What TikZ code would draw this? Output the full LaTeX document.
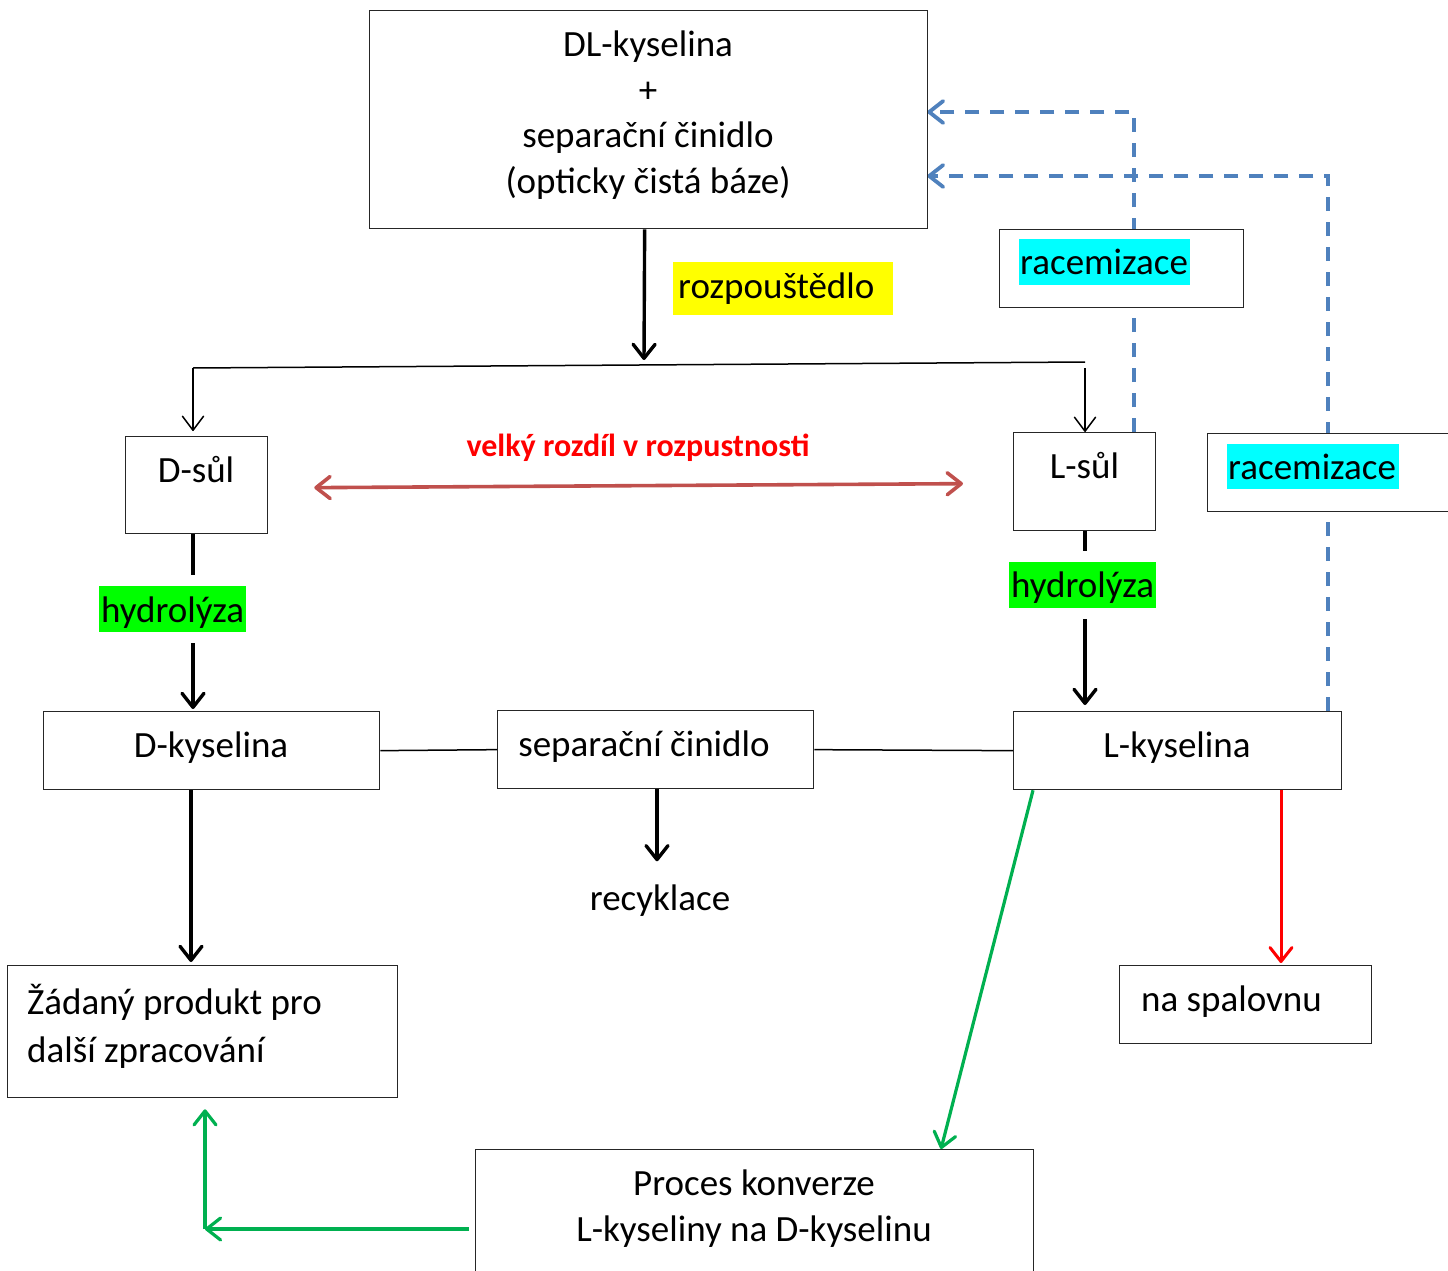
\documentclass[tikz,border=0pt]{standalone}
\usepackage{fontspec}
\setmainfont{Carlito}
\usetikzlibrary{arrows.meta,backgrounds,calc}
\definecolor{dashblue}{HTML}{4F81BD}
\definecolor{grn}{HTML}{00B050}
\definecolor{dred}{HTML}{C0504D}
\definecolor{boxline}{HTML}{262626}
\definecolor{hlyellow}{HTML}{FFFF00}
\definecolor{hlcyan}{HTML}{00FFFF}
\definecolor{hlgreen}{HTML}{00FF00}
\definecolor{pured}{HTML}{FF0000}
\begin{document}
\begin{tikzpicture}[x=1pt,y=-1pt,
  box/.style={draw=boxline, line width=1.3pt, fill=white, inner sep=0pt, anchor=north west},
  hl/.style={inner sep=0pt, anchor=north west},
  txt/.style={inner sep=0pt, font=\fontsize{37}{44}\selectfont, anchor=base},
  txtl/.style={txt, anchor=base west},
  tip/.tip={Straight Barb[round,length=14pt,width=22pt]},
  thk/.style={line width=3.4pt, -tip},
  thn/.style={line width=1.5pt},
  bdash/.style={draw=dashblue, line width=3.8pt, dash pattern=on 14pt off 11pt},
  gline/.style={draw=grn, line width=3.2pt},
]
\useasboundingbox (0,0) rectangle (1448,1271);
\clip (0,0) rectangle (1448,1271);

% boxes
\node[box, minimum width=558pt, minimum height=218pt] (top) at (369,10) {};
\node[box, minimum width=244pt, minimum height=78pt] (rac1) at (999,229) {};
\node[box, minimum width=260pt, minimum height=78pt] (rac2) at (1207,433) {};
\node[box, minimum width=142pt, minimum height=97pt] (Dsalt) at (125,436) {};
\node[box, minimum width=142pt, minimum height=98pt] (Lsalt) at (1013,432) {};
\node[box, minimum width=336pt, minimum height=78pt] (Dacid) at (43,711) {};
\node[box, minimum width=316pt, minimum height=78pt] (sep) at (497,710) {};
\node[box, minimum width=328pt, minimum height=78pt] (Lacid) at (1013,711) {};
\node[box, minimum width=390pt, minimum height=132pt] (zad) at (7,965) {};
\node[box, minimum width=252pt, minimum height=78pt] (spal) at (1119,965) {};
\node[box, minimum width=558pt, minimum height=160pt] (proc) at (475,1149) {};

% highlights
\node[hl, fill=hlyellow, minimum width=220pt, minimum height=53pt] (hlroz) at (673,262) {};
\node[hl, fill=hlcyan, minimum width=171pt, minimum height=46pt] (hlrac1) at (1019,239) {};
\node[hl, fill=hlcyan, minimum width=172pt, minimum height=45pt] (hlrac2) at (1227,444) {};
\node[hl, fill=hlgreen, minimum width=147pt, minimum height=46pt] (hydL) at (99,586) {};
\node[hl, fill=hlgreen, minimum width=147pt, minimum height=46pt] (hydR) at (1009,562) {};

% texts
\node[txt] (t1) at (648,57) {DL-kyselina};
\node[txt] (t2) at (648,102.5) {+};
\node[txt] (t3) at (648,148) {separační činidlo};
\node[txt] (t4) at (648,193.5) {(opticky čistá báze)};
\node[txtl] (troz) at (678,298) {rozpouštědlo};
\node[txtl] (trac1) at (1020,274) {racemizace};
\node[txtl] (trac2) at (1228,479) {racemizace};
\node[txt] (tDs) at (196,482) {D-sůl};
\node[txt] (tLs) at (1084.5,478) {L-sůl};
\node[txt] (thL) at (172.5,622) {hydrolýza};
\node[txt] (thR) at (1082.5,597) {hydrolýza};
\node[txt] (tDa) at (211,757) {D-kyselina};
\node[txt] (tsep) at (644,756) {separační činidlo};
\node[txt] (tLa) at (1177,757) {L-kyselina};
\node[txt] (recy) at (660,910) {recyklace};
\node[txtl] (tz1) at (27,1014) {Žádaný produkt pro};
\node[txtl] (tz2) at (27,1062) {další zpracování};
\node[txtl] (tsp) at (1141,1011) {na spalovnu};
\node[txt] (tp1) at (754,1195) {Proces konverze};
\node[txt] (tp2) at (754,1241) {L-kyseliny na D-kyselinu};
\node[inner sep=0pt, anchor=base, text=pured, font=\bfseries\fontsize{32}{38}\selectfont] (diff) at (638,456) {velký rozdíl v rozpustnosti};

% helper coordinates
\coordinate (splitL) at (193,368);
\coordinate (splitR) at (1085,362);
\coordinate (splitM) at (644,360);
\coordinate (xD) at (193,0);
\coordinate (xL) at (1085,0);
\coordinate (gcorner) at (205,1229);

\begin{scope}[on background layer]
\fill[white] (0,0) rectangle (1448,1271);
\draw[bdash, -tip, shorten >=-1pt] ([xshift=-22pt]Lsalt.north east) |- (top.east |- 0,112);
\draw[bdash, -tip, shorten >=-1pt] ([xshift=-14pt]Lacid.north east) |- (top.east |- 0,176);
\end{scope}

% solvent arrow and splitter
\draw[thk] ([xshift=-4pt]top.south) -- (splitM);
\draw[thn] (splitL) -- (splitR);
\draw[thn, -{Straight Barb[round,length=14pt,width=21pt]}, shorten >=5pt] (splitL) -- (Dsalt.north -| splitL);
\draw[thn, -{Straight Barb[round,length=14pt,width=21pt]}] ([yshift=-6pt]splitR) -- (Lsalt.north -| splitR);

% solubility difference
\draw[dred, line width=3.6pt, tip-tip] ([xshift=46pt,yshift=-2.5pt]Dsalt.east) -- ([xshift=-50pt,yshift=-2pt]Lsalt.west);

% hydrolysis
\draw[line width=3.4pt, shorten >=11pt] (Dsalt.south -| xD) -- (hydL.north -| xD);
\draw[thk, shorten <=11pt, shorten >=2pt] (hydL.south -| xD) -- (Dacid.north -| xD);
\draw[line width=3.4pt, shorten >=11pt] (Lsalt.south -| xL) -- (hydR.north -| xL);
\draw[thk, shorten <=11pt, shorten >=6pt] (hydR.south -| xL) -- (Lacid.north -| xL);

% acid row
\draw[thn] (Dacid.east) -- (sep.west);
\draw[thn] (sep.east) -- (Lacid.west);
\draw[thk] (sep.south -| 657,0) -- ++(0,72);
\draw[thk, shorten >=3pt] (Dacid.south -| 191,0) -- (zad.north -| 191,0);
\draw[pured, line width=3pt, -tip, shorten >=2pt] (Lacid.south -| 1281,0) -- (spal.north -| 1281,0);

% conversion
\draw[gline, -tip] (Lacid.south -| 1033,0) -- (proc.north -| 941,0);
\draw[gline, -tip, shorten <=6pt] (proc.west |- gcorner) -- (gcorner);
\draw[gline, -tip, shorten >=11pt] (gcorner) -- (zad.south -| gcorner);
\end{tikzpicture}
\end{document}
